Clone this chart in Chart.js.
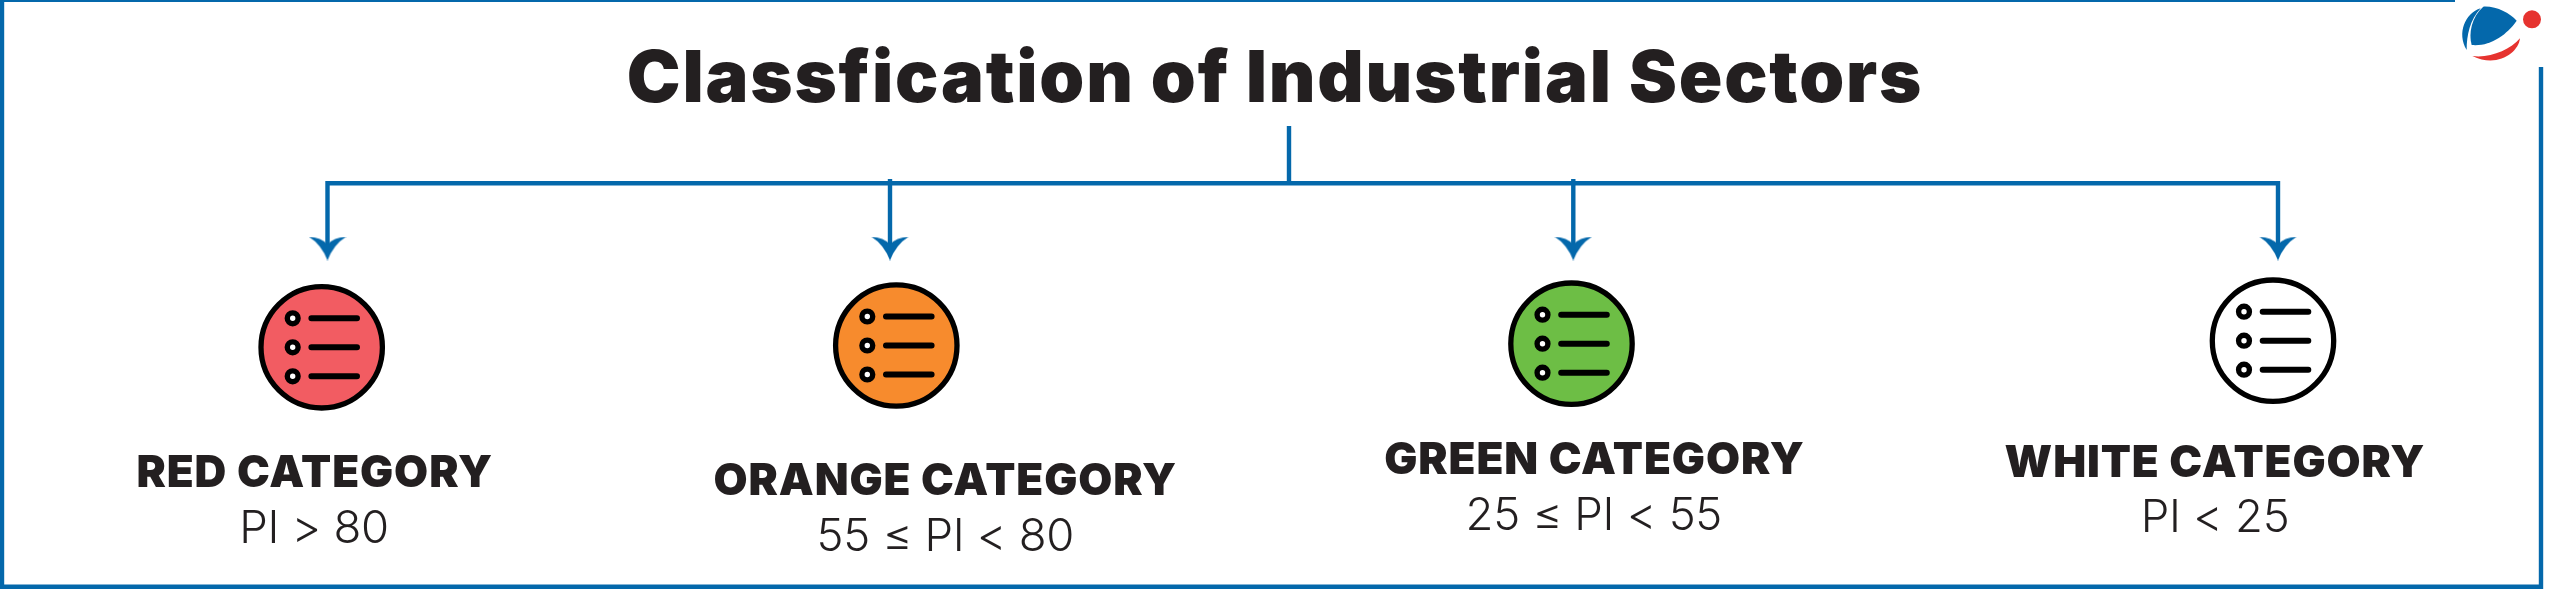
<!DOCTYPE html>
<html>
<head>
<meta charset="utf-8">
<title>Classfication of Industrial Sectors</title>
<script src="https://cdn.jsdelivr.net/npm/chart.js@4"></script>
<style>
  html, body { margin: 0; padding: 0; background: #fff; }
  canvas { display: block; }
</style>
</head>
<body>
<canvas id="myChart" width="2550" height="589"></canvas>
<script>
const chartTitle = "Classfication of Industrial Sectors";
const categories = ["RED CATEGORY", "ORANGE CATEGORY", "GREEN CATEGORY", "WHITE CATEGORY"];
const ranges = ["PI > 80", "55 ≤ PI < 80", "25 ≤ PI < 55", "PI < 25"];

// places, in picture units
const arrowX = [327.5, 890, 1573.3, 2278];
const iconX = [321.7, 896.3, 1571.5, 2273];
const iconY = [347.3, 345.5, 343.7, 340.7];
const categoryX = [314.7, 945.3, 1594.5, 2215];
const categoryY = [486.7, 495, 474, 477.3];
const rangeX = [314, 945.3, 1593.8, 2215];
const rangeY = [542.7, 551, 530, 531.7];

const iconColors = ["#f25c62", "#f78b2d", "#6dbe45", "#ffffff"];
const blue = "#0468ab";
const ink = "#231f20";

const rows = [-29, 0, 29];

const bullets = [];
const bars = [];
iconX.forEach((x, i) => {
  rows.forEach((r) => {
    bullets.push({ x: x - 29, y: iconY[i] + r });
    bars.push({ x: x - 10.3, y: iconY[i] + r }, { x: x + 35.3, y: iconY[i] + r }, { x: null, y: null });
  });
});

const wires = [
  { x: 325.3, y: 183.2 }, { x: 2280.2, y: 183.2 }, { x: null, y: null },
  { x: 1289, y: 126 }, { x: 1289, y: 183 }, { x: null, y: null },
];
arrowX.forEach((x, i) => {
  const top = i === 1 || i === 2 ? 179 : 183;
  wires.push({ x: x, y: top }, { x: x, y: 248 }, { x: null, y: null });
});

const arrowHead = document.createElement("canvas");
arrowHead.width = 38;
arrowHead.height = 24;
const h = arrowHead.getContext("2d");
h.fillStyle = blue;
h.beginPath();
h.moveTo(0, 0);
h.quadraticCurveTo(13, 1, 19, 8);
h.quadraticCurveTo(25, 1, 38, 0);
h.quadraticCurveTo(25, 8, 19, 24);
h.quadraticCurveTo(13, 8, 0, 0);
h.fill();

function text(ctx, str, x, y, font, spacing) {
  ctx.font = font;
  ctx.letterSpacing = spacing + "px";
  ctx.fillText(str, x, y);
}

const labelsPlugin = {
  id: "labels",
  afterDatasetsDraw(chart) {
    const ctx = chart.ctx;
    const sx = chart.scales.x;
    const sy = chart.scales.y;
    ctx.save();
    ctx.fillStyle = ink;
    ctx.textAlign = "center";
    ctx.textBaseline = "alphabetic";
    text(ctx, chartTitle, sx.getPixelForValue(1275), sy.getPixelForValue(101.7), "900 72px Inter", 1.8);
    categories.forEach((c, i) => {
      text(ctx, c, sx.getPixelForValue(categoryX[i]), sy.getPixelForValue(categoryY[i]), "900 44px Inter", 0.9);
    });
    ranges.forEach((r, i) => {
      text(ctx, r, sx.getPixelForValue(rangeX[i]), sy.getPixelForValue(rangeY[i]), "300 45.5px Inter", -0.3);
    });
    ctx.restore();

    // small logo, top right
    ctx.save();
    ctx.translate(2350, 0);
    ctx.scale(1 / 3, 1 / 3);
    ctx.fillStyle = blue;
    ctx.fill(new Path2D("M400,20 C440,18 480,40 500,62 C470,105 420,140 365,135 C355,100 365,50 400,20 Z"));
    ctx.fill(new Path2D("M392,25 C345,40 320,100 350,150 C350,105 360,60 392,25 Z"));
    ctx.fillStyle = "#e6332f";
    ctx.fill(new Path2D("M367,168 C420,175 480,150 510,115 C505,160 440,205 367,168 Z"));
    ctx.beginPath();
    ctx.arc(546, 58, 27, 0, Math.PI * 2);
    ctx.fill();
    ctx.restore();
  },
};

const ctx = document.getElementById("myChart");

const myChart = new Chart(ctx, {
  type: "scatter",
  data: {
    datasets: [
      {
        label: "bullets",
        data: bullets,
        pointRadius: 5.4,
        pointBorderWidth: 5.4,
        pointBackgroundColor: "#fff",
        pointBorderColor: "#000",
      },
      {
        label: "bars",
        data: bars,
        showLine: true,
        spanGaps: false,
        borderColor: "#000",
        borderWidth: 6,
        borderCapStyle: "round",
        pointRadius: 0,
      },
      {
        label: "icons",
        data: iconX.map((x, i) => ({ x: x, y: iconY[i] })),
        pointRadius: 60.7,
        pointBorderWidth: 5.3,
        pointBackgroundColor: iconColors,
        pointBorderColor: "#000",
      },
      {
        label: "arrow heads",
        data: arrowX.map((x) => ({ x: x, y: 248.5 })),
        pointStyle: arrowHead,
      },
      {
        label: "wires",
        data: wires,
        showLine: true,
        spanGaps: false,
        borderColor: blue,
        borderWidth: 4.4,
        pointRadius: 0,
      },
      {
        label: "frame",
        data: [{ x: 2, y: 0 }, { x: 2, y: 586.7 }, { x: 2541, y: 586.7 }, { x: 2541, y: 67 }],
        showLine: true,
        borderColor: blue,
        borderWidth: 4.4,
        borderJoinStyle: "miter",
        pointRadius: 0,
      },
      {
        label: "frame top",
        data: [{ x: 0, y: 1 }, { x: 2455, y: 1 }],
        showLine: true,
        borderColor: blue,
        borderWidth: 2,
        pointRadius: 0,
      },
    ],
  },
  options: {
    responsive: false,
    animation: false,
    devicePixelRatio: 1,
    events: [],
    layout: { padding: 0, autoPadding: false },
    plugins: { legend: { display: false }, tooltip: { enabled: false }, title: { display: false } },
    scales: {
      x: { type: "linear", min: 0, max: 2550, display: false },
      y: { type: "linear", min: 0, max: 589, reverse: true, display: false },
    },
  },
  plugins: [labelsPlugin],
});
</script>
</body>
</html>
